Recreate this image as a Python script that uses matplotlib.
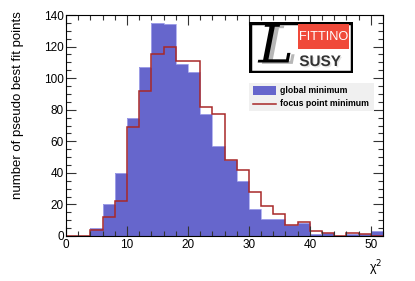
import numpy as np
import matplotlib
matplotlib.use("Agg")
import matplotlib.pyplot as plt
from matplotlib.patches import Rectangle
from matplotlib.lines import Line2D
from matplotlib.ticker import MultipleLocator
import matplotlib.patheffects as pe

plt.rcParams['font.family'] = ['Liberation Sans', 'DejaVu Sans']

bin_edges = np.arange(0, 54, 2)
global_min = [0, 0, 5, 20, 40, 75, 107, 135, 134, 109, 104, 77, 57,
              48, 35, 17, 11, 11, 7, 8, 1, 2, 0, 1, 1, 3]
focus_min = [0, 0, 4, 12, 22, 69, 92, 115, 120, 111, 111, 82, 77,
             48, 42, 28, 19, 14, 7, 9, 3, 2, 0, 2, 1, 0]
x_label = "χ$^2$"
y_label = "number of pseudo best fit points"
legend_labels = ["global minimum", "focus point minimum"]

W, H = 415, 281
fig = plt.figure(figsize=(W / 100, H / 100), dpi=100)
ax = fig.add_axes([66 / W, 1 - 236 / H, 317 / W, 221 / H])

blue = "#6666cc"
red = "#a82828"

ax.bar(bin_edges[:-1], global_min, width=2, align='edge', color=blue,
       edgecolor='none', linewidth=0)
ax.stairs(global_min, bin_edges, baseline=None, color="#a8a8ec",
          linewidth=0.6)
ax.stairs(focus_min, bin_edges, baseline=0, color=red, linewidth=1.1)

ax.set_xlim(0, 52)
ax.set_ylim(0, 140)
ax.xaxis.set_major_locator(MultipleLocator(10))
ax.xaxis.set_minor_locator(MultipleLocator(2))
ax.yaxis.set_major_locator(MultipleLocator(20))
ax.yaxis.set_minor_locator(MultipleLocator(5))
ax.tick_params(which='both', direction='in', top=True, right=True,
               labelsize=8.5, width=0.8, color='#333333')
ax.tick_params(which='major', length=7)
ax.tick_params(which='minor', length=3.5)
ax.tick_params(axis='x', pad=2)
ax.tick_params(axis='y', pad=1.5)
for s in ax.spines.values():
    s.set_linewidth(0.8)

fig.text(18 / W, 1 - 11 / H, y_label, rotation=90, ha='center', va='top',
         fontsize=9.5)
fig.text(382 / W, 1 - 268 / H, x_label, ha='right', va='center',
         fontsize=9)

# Logo
lx0, ly0, lx1, ly1 = 249, 22, 353, 73
logo = fig.add_axes([lx0 / W, 1 - ly1 / H, (lx1 - lx0) / W, (ly1 - ly0) / H])
logo.set_xlim(lx0, lx1)
logo.set_ylim(ly1, ly0)
logo.axis('off')
logo.add_patch(Rectangle((lx0 + 1, ly0 + 1), lx1 - lx0 - 2, ly1 - ly0 - 2,
                         facecolor='white', edgecolor='black', linewidth=2.5))
logo.add_patch(Rectangle((298, 24), 51, 25, facecolor='#f04a3a',
                         edgecolor='none'))
logo.text(323.5, 37, "FITTINO", color='white', ha='center', va='center',
          fontsize=9.2)
logo.text(320, 62, "SUSY", color='#333333', ha='center', va='center',
          fontsize=11, fontweight='bold',
          path_effects=[pe.withSimplePatchShadow(offset=(1, -1),
                                                 shadow_rgbFace='#aaaaaa')])
logo.text(276, 48, "L", color='black', ha='center', va='center',
          fontsize=38, style='italic', family='DejaVu Serif',
          path_effects=[pe.withSimplePatchShadow(offset=(3, -1),
                                                 shadow_rgbFace='#999999',
                                                 alpha=0.7)])

# Legend
lg = fig.add_axes([249 / W, 1 - 111 / H, 125 / W, 28 / H])
lg.set_xlim(249, 374)
lg.set_ylim(111, 83)
lg.axis('off')
lg.add_patch(Rectangle((249, 83), 125, 28, facecolor='#f0f0f0',
                       edgecolor='none'))
lg.add_patch(Rectangle((253, 86), 23, 9, facecolor=blue, edgecolor='none'))
lg.add_line(Line2D([253, 276], [104, 104], color=red, linewidth=1.1))
lg.text(280, 90.5, legend_labels[0], ha='left', va='center', fontsize=6.3,
        fontweight='bold')
lg.text(280, 104, legend_labels[1], ha='left', va='center', fontsize=6.3,
        fontweight='bold')

fig.savefig("out.png", dpi=100)
